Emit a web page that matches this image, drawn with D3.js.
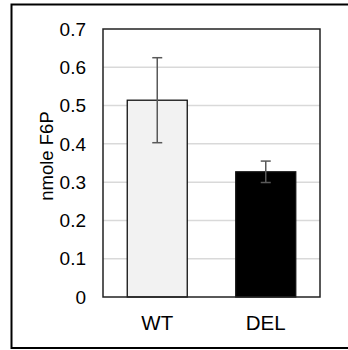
<!DOCTYPE html>
<html lang="en">
<head>
  <meta charset="UTF-8">
  <title>nmole F6P</title>
  <script src="https://cdn.jsdelivr.net/npm/d3@7"></script>
  <style>
    body { margin: 0; background: #fff; }
    text { font-family: "Liberation Sans", Arial, sans-serif; fill: #000; }
  </style>
</head>
<body>
  <svg width="348" height="350" id="chart"></svg>
  <script>
    const categories = ['WT', 'DEL'];
    const values = [0.514, 0.327];
    const errors = [0.111, 0.028];
    const barColors = ['#f2f2f2', '#000000'];
    const yTicks = [0, 0.1, 0.2, 0.3, 0.4, 0.5, 0.6, 0.7];

    const svg = d3.select('#chart');
    const plot = { left: 103, top: 29, right: 320, bottom: 297 };

    // outer frame
    svg.append('rect')
      .attr('x', 11.5).attr('y', 4.5)
      .attr('width', 345).attr('height', 343.5)
      .attr('fill', 'none').attr('stroke', '#000').attr('stroke-width', 2);

    const x = d3.scaleBand().domain(categories)
      .range([plot.left, plot.right]).paddingInner(0.447).paddingOuter(0.2235);
    const y = d3.scaleLinear().domain([0, 0.7]).range([plot.bottom, plot.top]);

    // gridlines
    svg.append('g').selectAll('line')
      .data(yTicks.slice(1, -1))
      .enter().append('line')
      .attr('x1', plot.left).attr('x2', plot.right)
      .attr('y1', d => y(d)).attr('y2', d => y(d))
      .attr('stroke', '#d9d9d9').attr('stroke-width', 1.5);

    // tick labels
    svg.append('g').selectAll('text')
      .data(yTicks)
      .enter().append('text')
      .attr('x', 86).attr('y', d => y(d))
      .attr('dy', '0.35em')
      .attr('text-anchor', 'end')
      .attr('font-size', '19px')
      .text(d => d === 0 ? '0' : d3.format('.1f')(d));

    // bars
    svg.append('g').selectAll('rect')
      .data(values)
      .enter().append('rect')
      .attr('x', (d, i) => x(categories[i]))
      .attr('y', d => y(d))
      .attr('width', x.bandwidth())
      .attr('height', d => y(0) - y(d))
      .attr('fill', (d, i) => barColors[i])
      .attr('stroke', '#111').attr('stroke-width', 1.3);

    // error bars
    const eb = svg.append('g').attr('stroke', '#595959').attr('stroke-width', 1.5);
    values.forEach((v, i) => {
      const cx = x(categories[i]) + x.bandwidth() / 2;
      eb.append('line').attr('x1', cx).attr('x2', cx)
        .attr('y1', y(v + errors[i])).attr('y2', y(v - errors[i]));
      [v + errors[i], v - errors[i]].forEach(e => {
        eb.append('line').attr('x1', cx - 5).attr('x2', cx + 5)
          .attr('y1', y(e)).attr('y2', y(e));
      });
    });

    // plot border
    svg.append('rect')
      .attr('x', plot.left).attr('y', plot.top)
      .attr('width', plot.right - plot.left).attr('height', plot.bottom - plot.top)
      .attr('fill', 'none').attr('stroke', '#222').attr('stroke-width', 1.5);

    // x labels
    svg.append('g').selectAll('text')
      .data(categories)
      .enter().append('text')
      .attr('x', d => x(d) + x.bandwidth() / 2)
      .attr('y', 329.5)
      .attr('text-anchor', 'middle')
      .attr('font-size', '20.5px')
      .text(d => d);

    // y title
    svg.append('text')
      .attr('transform', `translate(53, ${(plot.top + plot.bottom) / 2 - 7}) rotate(-90)`)
      .attr('text-anchor', 'middle')
      .attr('font-size', '18.5px')
      .text('nmole F6P');
  </script>
</body>
</html>
